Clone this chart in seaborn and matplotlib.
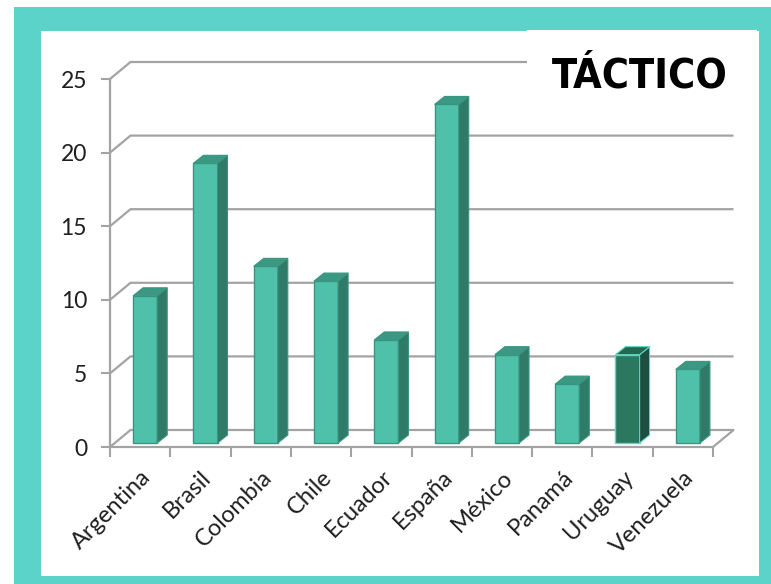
import numpy as np
import pandas as pd
import seaborn as sns
import matplotlib
matplotlib.use("Agg")
import matplotlib.pyplot as plt
from matplotlib.patches import Polygon, Rectangle

# ---- data ----
countries = ["Argentina", "Brasil", "Colombia", "Chile", "Ecuador",
             "España", "México", "Panamá", "Uruguay", "Venezuela"]
values = [10, 19, 12, 11, 7, 23, 6, 4, 6, 5]
y_ticks = [0, 5, 10, 15, 20, 25]
title = "TÁCTICO"
highlight = "Uruguay"

# ---- style ----
teal = "#5CD3C8"
grid = "#A3A3A3"
front = "#4FC1AB"
side_c = "#2F7A68"
top_c = "#3B9983"
edge_c = "#3A9580"
hl_front = "#2B775F"
hl_side = "#1D4E40"
hl_top = "#24664F"
hl_edge = "#5ED6C2"

sns.set_theme(style="white")
plt.rcParams["font.family"] = ["Lato", "DejaVu Sans"]

W, H = 771, 584
fig = plt.figure(figsize=(W / 100, H / 100), dpi=100)
fig.patch.set_facecolor("white")


def fr(x0, y0, x1, y1):
    return [x0 / W, 1 - y1 / H, (x1 - x0) / W, (y1 - y0) / H]


# border frame
fig.add_artist(Rectangle((14 / W, 0), (W - 14) / W, (H - 7) / H,
                         transform=fig.transFigure, facecolor=teal,
                         edgecolor="none", zorder=-2))
fig.add_artist(Rectangle((41 / W, 1 - 576 / H), (759 - 41) / W, (576 - 31) / H,
                         transform=fig.transFigure, facecolor="white",
                         edgecolor="none", zorder=-1))

ax = fig.add_axes(fr(110, 79, 713, 447))
ax.patch.set_alpha(0)

df = pd.DataFrame({"country": countries, "value": values})
palette = {c: (hl_front if c == highlight else front) for c in countries}
sns.barplot(data=df, x="country", y="value", hue="country", palette=palette,
            width=0.4, ax=ax, legend=False, saturation=1, zorder=3)

ax.set_xlim(-0.5, len(countries) - 0.5)
ax.set_ylim(0, 25)
for s in ax.spines.values():
    s.set_visible(False)

# 3D geometry (data units derived from pixel scale)
px_x = (len(countries)) / 603.0
px_y = 25 / 368.0
DX, DY = 20.5 * px_x, 17 * px_y      # back wall depth
BX, BY = 5 * px_x, 4 * px_y          # bar placement inside depth
SDX, SDY = 10 * px_x, 8 * px_y       # bar depth

for p in ax.patches:
    idx = int(round(p.get_x() + p.get_width() / 2))
    hl = countries[idx] == highlight
    x0 = p.get_x() + BX
    w = p.get_width()
    h = p.get_height()
    p.set_x(x0)
    p.set_y(BY)
    p.set_edgecolor(hl_edge if hl else edge_c)
    p.set_linewidth(1.0)
    x1 = x0 + w
    top = BY + h
    sidep = Polygon([(x1, BY), (x1, top), (x1 + SDX, top + SDY), (x1 + SDX, BY + SDY)],
                    closed=True, facecolor=hl_side if hl else side_c,
                    edgecolor=hl_edge if hl else edge_c, linewidth=0.8,
                    zorder=3, clip_on=False)
    topp = Polygon([(x0, top), (x1, top), (x1 + SDX, top + SDY), (x0 + SDX, top + SDY)],
                   closed=True, facecolor=hl_top if hl else top_c,
                   edgecolor=hl_edge if hl else edge_c, linewidth=0.8,
                   zorder=3, clip_on=False)
    ax.add_patch(sidep)
    ax.add_patch(topp)

xl, xr = -0.5, len(countries) - 0.5
for y in y_ticks:
    ax.plot([xl, xl + DX, xr + DX], [y, y + DY, y + DY], color=grid, lw=1.6,
            zorder=1, clip_on=False, solid_capstyle="butt")
ax.plot([xl, xr, xr + DX], [0, 0, DY], color=grid, lw=1.6, zorder=1, clip_on=False)
ax.plot([xl, xl], [0, 25], color=grid, lw=1.6, zorder=1, clip_on=False)

# ticks
ax.set_yticks(y_ticks)
ax.set_yticklabels([str(v) for v in y_ticks])
ax.tick_params(axis="y", left=True, length=6.5, width=1.5, color=grid, pad=10,
               labelsize=16.5, labelcolor="#1F1F1F")
ax.set_xticks(range(len(countries)))
ax.set_xticklabels(countries, rotation=45, ha="right", rotation_mode="anchor")
ax.set_xticks(np.arange(-0.5, len(countries), 1.0), minor=True)
ax.tick_params(axis="x", which="major", bottom=True, length=0, pad=14,
               labelsize=17, labelcolor="#1F1F1F")
ax.tick_params(axis="x", which="minor", bottom=True, length=7.5, width=1.5, color=grid)
ax.set_xlabel("")
ax.set_ylabel("")

# title box
fig.add_artist(Rectangle((527 / W, 1 - 125 / H), (757 - 527) / W, (125 - 30) / H,
                         transform=fig.transFigure, facecolor="white",
                         edgecolor="none", zorder=5))
t = fig.text(640 / W, 1 - 88 / H, title, fontsize=35, weight="semibold",
             family=["Liberation Sans Narrow", "Noto Sans Condensed", "DejaVu Sans"],
             fontstretch="condensed",
             ha="center", va="baseline", color="black", zorder=6)
renderer = fig.canvas.get_renderer()
wpx = t.get_window_extent(renderer).width
target = 176.0
if wpx > 0:
    t.set_fontsize(min(36, 35 * target / wpx))

fig.savefig("out.png", dpi=100)
